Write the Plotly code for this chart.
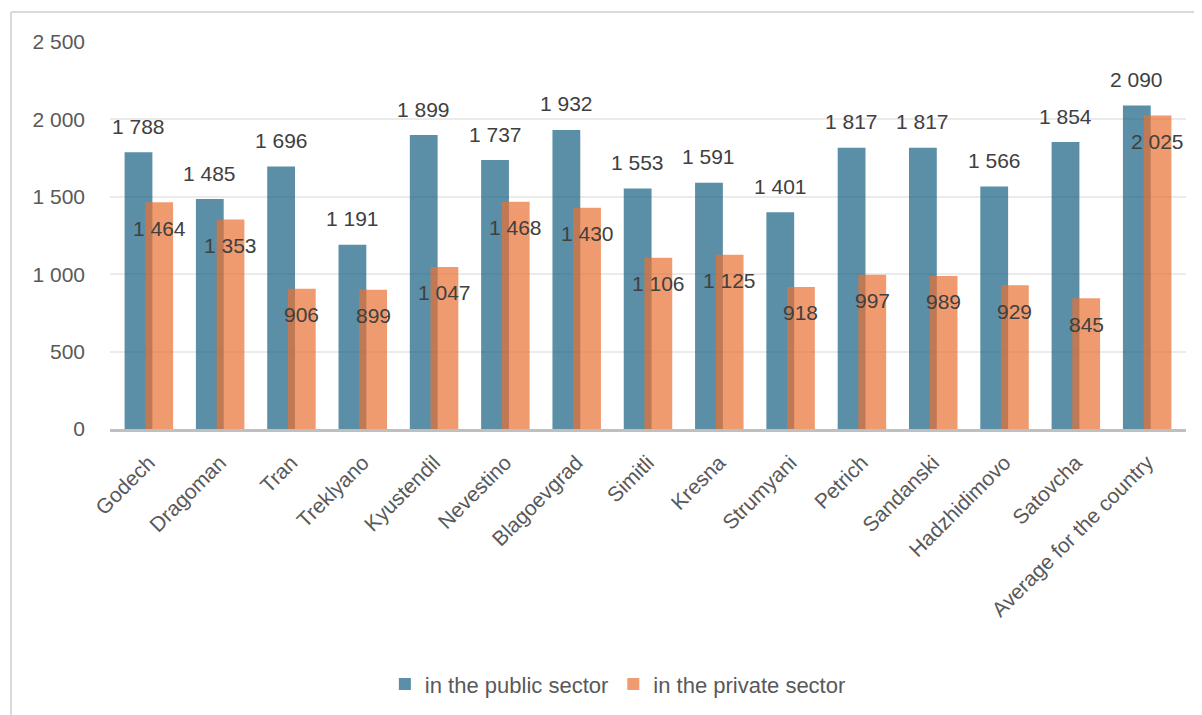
import plotly.graph_objects as go

categories = ["Godech", "Dragoman", "Tran", "Treklyano", "Kyustendil", "Nevestino",
              "Blagoevgrad", "Simitli", "Kresna", "Strumyani", "Petrich", "Sandanski",
              "Hadzhidimovo", "Satovcha", "Average for the country"]
public_sector = [1788, 1485, 1696, 1191, 1899, 1737, 1932, 1553, 1591, 1401, 1817, 1817, 1566, 1854, 2090]
private_sector = [1464, 1353, 906, 899, 1047, 1468, 1430, 1106, 1125, 918, 997, 989, 929, 845, 2025]
y_ticks = [0, 500, 1000, 1500, 2000, 2500]
y_tick_labels = ["0", "500", "1 000", "1 500", "2 000", "2 500"]

BLUE = "rgba(21,96,130,0.7)"
ORANGE = "rgba(233,113,50,0.7)"
FONT = "Liberation Sans"
W = 0.39
OFF_PUB = -0.34
OFF_PRI = -0.05

FIG_W, FIG_H = 1194, 707
ML, MR, MT, MB = 102, 16, 34, 285
PW = FIG_W - ML - MR
PH = FIG_H - MT - MB


def fmt(v):
    return f"{v:,}".replace(",", " ")


fig = go.Figure()
fig.add_trace(go.Bar(x=categories, y=public_sector, name="in the public sector",
                     marker=dict(color=BLUE, line=dict(width=0)), width=W, offset=OFF_PUB))
fig.add_trace(go.Bar(x=categories, y=private_sector, name="in the private sector",
                     marker=dict(color=ORANGE, line=dict(width=0)), width=W, offset=OFF_PRI))

annotations = []
for i, (pu, pr) in enumerate(zip(public_sector, private_sector)):
    annotations.append(dict(x=i + OFF_PUB + W / 2, y=pu, xref="x", yref="y", text=fmt(pu),
                            showarrow=False, yanchor="middle", yshift=26,
                            font=dict(family=FONT, size=21, color="#404040")))
    annotations.append(dict(x=i + OFF_PRI + W / 2, y=pr, xref="x", yref="y", text=fmt(pr),
                            showarrow=False, yanchor="middle", yshift=-26,
                            font=dict(family=FONT, size=21, color="#404040")))

fx = (3 - ML) / PW
fy_top = (FIG_H - MB - 4) / PH
fy_bot = (FIG_H - MB - FIG_H - 2) / PH

fig.update_layout(
    width=FIG_W, height=FIG_H,
    margin=dict(l=ML, r=MR, t=MT, b=MB),
    paper_bgcolor="white", plot_bgcolor="white",
    barmode="overlay",
    separators=". ",
    font=dict(family=FONT, size=21, color="#595959"),
    annotations=annotations,
    showlegend=True,
    legend=dict(orientation="h", x=0.472, xanchor="center", y=-0.655, yanchor="middle",
                font=dict(family=FONT, size=22, color="#595959"), itemwidth=30,
                traceorder="normal"),
    shapes=[
        dict(type="line", xref="paper", yref="paper", x0=fx, x1=(FIG_W + 2 - ML) / PW,
             y0=fy_top, y1=fy_top, line=dict(color="#D9D9D9", width=2)),
        dict(type="line", xref="paper", yref="paper", x0=fx, x1=fx,
             y0=fy_top, y1=fy_bot, line=dict(color="#D9D9D9", width=2)),
    ],
)
fig.update_xaxes(type="category", tickangle=-45, showgrid=False, showline=True,
                 linecolor="#BFBFBF", linewidth=3, ticks="", ticklabelstandoff=10,
                 tickfont=dict(family=FONT, size=21, color="#595959"))
fig.update_yaxes(range=[0, 2500], tickvals=y_ticks, ticktext=y_tick_labels,
                 showgrid=True, gridcolor="#EBEBEB",
                 gridwidth=1.5, zeroline=False, showline=False, ticks="",
                 ticklabelstandoff=24, tickfont=dict(family=FONT, size=21, color="#595959"))

fig.write_html("out.html")
